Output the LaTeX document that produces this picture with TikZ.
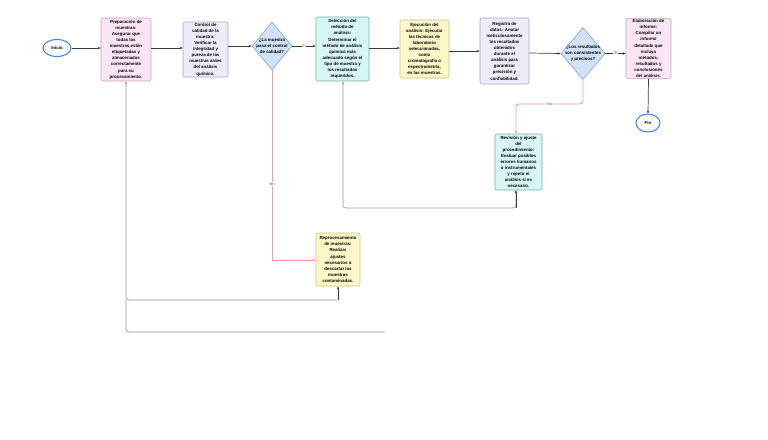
\documentclass[tikz,border=0pt]{standalone}
\usepackage{fontspec}
\setmainfont{Liberation Sans}
\usetikzlibrary{shapes.geometric,arrows.meta}
\definecolor{pinkF}{HTML}{FCE6F3}\definecolor{pinkD}{HTML}{C8A2BA}
\definecolor{lavF}{HTML}{EFECF9}\definecolor{lavD}{HTML}{A9A6C2}
\definecolor{cyanF}{HTML}{D6F7F2}\definecolor{cyanD}{HTML}{6FB3AA}
\definecolor{yelF}{HTML}{FDF8C8}\definecolor{yelD}{HTML}{C9C186}
\definecolor{diaF}{HTML}{CFE2F8}\definecolor{diaD}{HTML}{7FA3CF}
\definecolor{termD}{HTML}{3B82F6}
\definecolor{lineD}{HTML}{3A3A3A}
\definecolor{lineR}{HTML}{F59A9A}
\definecolor{lineG}{HTML}{9A9A9A}
\tikzset{
  txt/.style={font=\bfseries\fontsize{4.4}{6.1}\selectfont, align=center, inner sep=1pt},
  boxn/.style={txt, draw, rounded corners=2pt, line width=0.6pt},
  pinkbox/.style={boxn, fill=pinkF, draw=pinkD},
  lavbox/.style={boxn, fill=lavF, draw=lavD},
  cyanbox/.style={boxn, fill=cyanF, draw=cyanD},
  yelbox/.style={boxn, fill=yelF, draw=yelD},
  dia/.style={txt, diamond, draw=diaD, fill=diaF, line width=0.6pt, aspect=0.85, inner sep=-1.5pt},
  term/.style={txt, ellipse, draw=termD, fill=white, line width=1pt},
  conn/.style={draw=lineD, line width=0.7pt, -{Stealth[length=3pt,width=2.5pt]}},
  connr/.style={draw=lineR, line width=0.9pt, -{Stealth[length=3pt,width=2.5pt]}},
  conng/.style={draw=lineG, line width=0.7pt, rounded corners=3pt, -{Stealth[length=3pt,width=2.5pt]}},
  lbl/.style={font=\fontsize{3.8}{4}\selectfont, fill=white, text=black!70, inner sep=0.6pt},
}
\begin{document}
\begin{tikzpicture}[x=1pt,y=-1pt]
\useasboundingbox (0,0) rectangle (768,439);
\fill[white] (0,0) rectangle (768,439);
% nodes
\node[term, minimum width=28pt, minimum height=17pt] (ini) at (57,48) {Inicio};
\node[pinkbox, minimum width=50pt, minimum height=63pt] (prep) at (126,49.5) {Preparación de\\muestras:\\Asegurar que\\todas las\\muestras estén\\etiquetadas y\\almacenadas\\correctamente\\para su\\procesamiento.};
\node[lavbox, minimum width=45pt, minimum height=55pt] (ctrl) at (205.5,49.5) {Control de\\calidad de la\\muestra:\\Verificar la\\integridad y\\pureza de las\\muestras antes\\del análisis\\químico.};
\node[dia, minimum width=40pt, minimum height=48pt] (d1) at (272,46) {¿La muestra\\pasa el control\\de calidad?};
\node[cyanbox, minimum width=53pt, minimum height=64pt] (sel) at (342.5,49) {Selección del\\método de\\análisis:\\Determinar el\\método de análisis\\químico más\\adecuado según el\\tipo de muestra y\\los resultados\\requeridos.};
\node[yelbox, minimum width=49pt, minimum height=58pt] (ejec) at (424.5,49) {Ejecución del\\análisis: Ejecutar\\las técnicas de\\laboratorio\\seleccionadas,\\como\\cromatografía o\\espectrometría,\\en las muestras.};
\node[lavbox, minimum width=49pt, minimum height=66pt] (reg) at (504.5,51) {Registro de\\datos: Anotar\\meticulosamente\\los resultados\\obtenidos\\durante el\\análisis para\\garantizar\\precisión y\\confiabilidad.};
\node[dia, minimum width=42pt, minimum height=49pt] (d2) at (583,53.5) {¿Los resultados\\son consistentes\\y precisos?};
\node[pinkbox, minimum width=45pt, minimum height=55pt] (elab) at (648.5,48.5) {Elaboración de\\informe:\\Compilar un\\informe\\detallado que\\incluya\\métodos,\\resultados y\\conclusiones\\del análisis.};
\node[term, minimum width=24pt, minimum height=18pt] (fin) at (648,123) {Fin};
\node[cyanbox, minimum width=47pt, minimum height=56pt] (rev) at (518.5,162) {Revisión y ajuste\\del\\procedimiento:\\Evaluar posibles\\errores humanos\\o instrumentales\\y repetir el\\análisis si es\\necesario.};
\node[yelbox, minimum width=44pt, minimum height=53pt] (repr) at (338,259.5) {Reprocesamiento\\de muestras:\\Realizar\\ajustes\\necesarios o\\descartar las\\muestras\\contaminadas.};
% coordinates
\coordinate (c1) at (272,260);
\coordinate (c2) at (583,104);
\coordinate (c3) at (516,104);
\coordinate (c4) at (516,208);
\coordinate (c5) at (343,208);
\coordinate (c6) at (338,300);
\coordinate (c7) at (126,300);
\coordinate (c8) at (126,332);
\coordinate (c9) at (385,332);
% connectors
\draw[conn] (ini) -- (prep.west |- ini);
\draw[conn] (prep.east |- 0,48) -- (ctrl.west |- 0,48);
\draw[conn] (ctrl.east |- d1) -- (d1.west);
\draw[conn] (d1.east) -- node[lbl]{Sí} (sel.west |- d1);
\draw[connr] (d1.south) -- node[lbl, pos=0.6]{No} (c1) -- (repr.west |- c1);
\draw[conn] (sel.east |- 0,48) -- (ejec.west |- 0,48);
\draw[conn] (ejec.east |- 0,51) -- (reg.west |- 0,51);
\draw[conn] (reg.east |- 0,53) -- (d2.west);
\draw[conn] (d2.east) -- node[lbl]{Sí} (elab.west |- d2);
\draw[connr, rounded corners=3pt] (d2.south) -- (c2) -- node[lbl]{No} (c3) -- (rev.north -| c3);
\draw[conn] (elab.south) -- (fin.north);
\draw[conng] (rev.south -| c4) -- (c4) -- (c5) -- (sel.south -| c5);
\draw[draw=lineD, line width=0.7pt, -{Stealth[length=3pt,width=2.5pt]}] (c4) -- (rev.south -| c4);
\draw[conng] (c6) -- (c7) -- (prep.south -| c7);
\draw[draw=lineD, line width=0.7pt, -{Stealth[length=3pt,width=2.5pt]}] (c6) -- (repr.south);
\draw[draw=lineG, line width=0.7pt, rounded corners=3pt] (c7) -- (c8) -- (c9);
\end{tikzpicture}
\end{document}
